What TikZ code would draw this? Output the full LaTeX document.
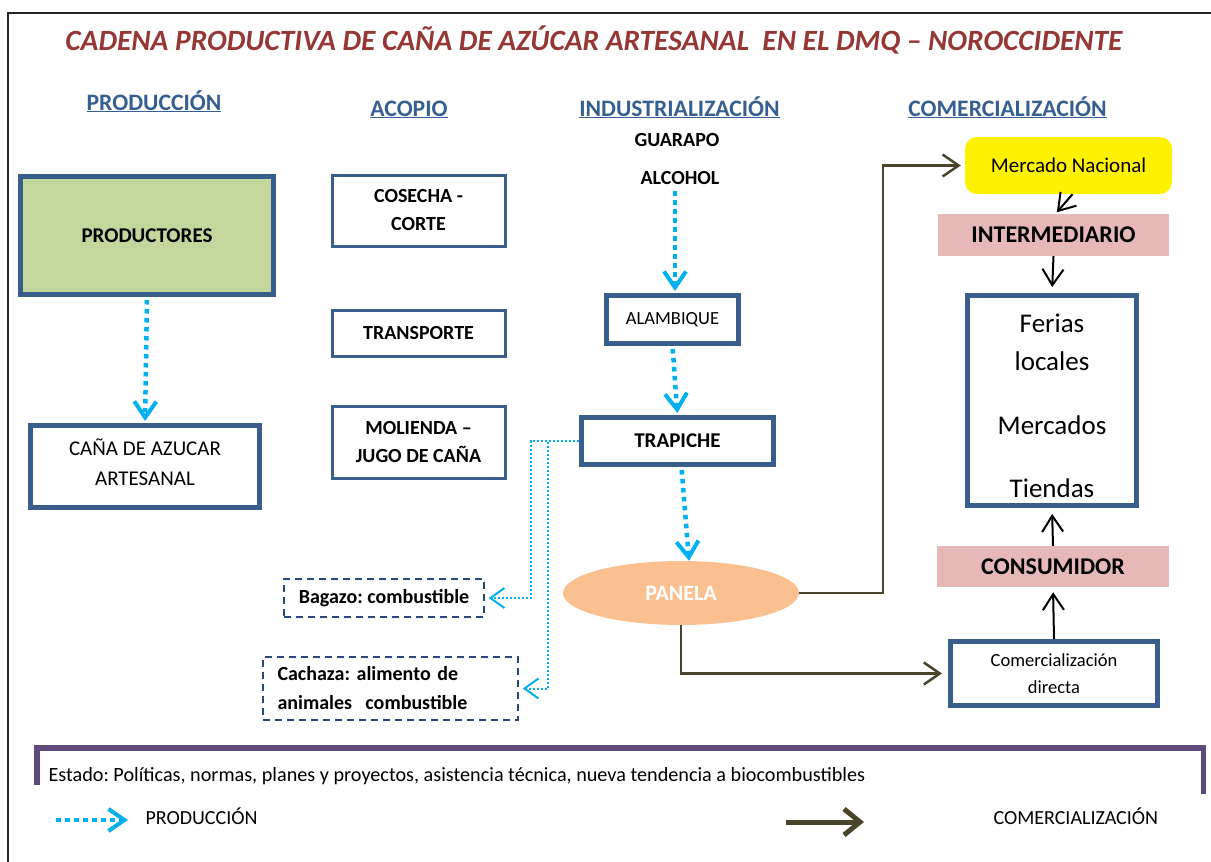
\documentclass[tikz,border=0pt]{standalone}
\usepackage{fontspec}
\setmainfont{Carlito}
\frenchspacing
\usetikzlibrary{positioning,arrows.meta,shapes.geometric}
\definecolor{titlec}{RGB}{149,55,53}
\definecolor{headc}{RGB}{54,95,145}
\definecolor{boxc}{RGB}{58,94,140}
\definecolor{dashc}{RGB}{40,70,120}
\definecolor{greenc}{RGB}{195,214,155}
\definecolor{flowc}{RGB}{0,176,240}
\definecolor{panc}{RGB}{250,192,144}
\definecolor{pinkc}{RGB}{230,185,184}
\definecolor{salec}{RGB}{74,69,42}
\definecolor{statec}{RGB}{95,73,122}
\newcommand{\fsz}[2]{\fontsize{#1}{#2}\selectfont}
\tikzset{
  stage/.style  = {draw=boxc, line width=5pt, fill=white, align=center, inner sep=0pt,
                   font=\fsz{20}{28}},
  acop/.style   = {draw=boxc, line width=3pt, align=center, inner sep=0pt,
                   font=\fsz{20}{28}\bfseries},
  byprod/.style = {draw=dashc, line width=1.5pt, dash pattern=on 7pt off 5pt, inner sep=0pt,
                   font=\fsz{20}{29}\bfseries},
  market/.style = {fill=yellow, rounded corners=12pt, inner sep=0pt, font=\fsz{21}{24}},
  actor/.style  = {fill=pinkc, inner sep=0pt, font=\fsz{24}{28}\bfseries},
  hdr/.style    = {text=headc, font=\fsz{23.6}{28}\bfseries, anchor=base},
  lbl/.style    = {font=\fsz{20}{24}\bfseries},
  note/.style   = {font=\fsz{20}{24}, anchor=west},
  flow/.style   = {draw=flowc, line width=4.5pt, dash pattern=on 4.5pt off 4.5pt, shorten <=3pt,
                   -{Straight Barb[length=16pt,width=22pt,line width=4pt]}},
  sub/.style    = {draw=flowc, line width=2pt, dash pattern=on 2pt off 2pt,
                   -{Straight Barb[length=14pt,width=20pt,line width=2pt]}},
  sale/.style   = {draw=salec, line width=2.5pt,
                   -{Straight Barb[length=16pt,width=22pt,line width=2.5pt]}},
  link/.style   = {draw=black, line width=2pt,
                   -{Straight Barb[length=16pt,width=21pt,line width=2pt]}},
}
\begin{document}
\begin{tikzpicture}[x=1pt,y=-1pt]
\useasboundingbox (0,0) rectangle (1211,862);

% marco
\draw[line width=2pt, black!85] (1211,13) -- (8,13) -- (8,862);

\node[font=\fsz{29.4}{34}\bfseries\itshape, text=titlec] (title) at (594,40)
  {CADENA PRODUCTIVA DE CAÑA DE AZÚCAR ARTESANAL\ \ EN EL DMQ – NOROCCIDENTE};

\node[hdr] (hprod) at (154,110) {\underline{PRODUCCIÓN}};
\node[hdr] (hacop) at (409,116) {\underline{ACOPIO}};
\node[hdr] (hind) at (679.5,116) {\underline{INDUSTRIALIZACIÓN}};
\node[hdr] (hcom) at (1007.5,116) {\underline{COMERCIALIZACIÓN}};

% produccion
\node[stage, fill=greenc, minimum width=253pt, minimum height=118pt, font=\fsz{21}{28}\bfseries]
  (prod) at (147,235.5) {PRODUCTORES};
\node[stage, minimum width=229pt, minimum height=82pt, font=\fsz{21}{30}]
  (cana) at (145,466.5) {CAÑA DE AZUCAR\\ARTESANAL\rule[-9pt]{0pt}{9pt}};
\draw[flow, shorten >=2pt] (prod.south) -- (cana.north);

% acopio
\node[acop, minimum width=173pt, minimum height=71pt] (cos) at (418.5,210.5) {COSECHA -\\CORTE};
\node[acop, minimum width=173pt, minimum height=46pt] (trans) at (418.5,333.5) {TRANSPORTE};
\node[acop, minimum width=173pt, minimum height=72pt] (mol) at (418.5,442.5) {MOLIENDA –\\JUGO DE CAÑA};

% industrializacion
\node[lbl] (guar) at (677,140) {GUARAPO};
\node[lbl] (alc) at (680,178) {ALCOHOL};
\node[stage, minimum width=132pt, minimum height=48pt, font=\fsz{18.5}{24}]
  (alam) at (672.5,319.5) {ALAMBIQUE};
\node[stage, minimum width=192pt, minimum height=47pt, font=\fsz{21}{24}\bfseries]
  (trap) at (677.5,441) {TRAPICHE};
\node[ellipse, fill=panc, minimum width=236pt, minimum height=64pt, inner sep=0pt,
  text=white, font=\fsz{22}{24}\bfseries] (pan) at (681,593) {PANELA};

\draw[flow, shorten >=2pt] ([xshift=-5pt]alc.south) -- ([xshift=2.5pt]alam.north);
\draw[flow, shorten >=2pt] (alam.south) -- (trap.north);
\draw[flow] ([xshift=4pt]trap.south) -- ([xshift=8pt]pan.north);

% subproductos
\node[byprod, minimum width=200pt, minimum height=38pt] (bag) at (384,598) {Bagazo: combustible};
\node[byprod, minimum width=255pt, minimum height=63pt, text width=226pt, align=left]
  (cach) at (390.5,688.5) {Cachaza: alimento de\\animales\ \ combustible};
\draw[sub] (trap.west) -- ++(-48.5,0) |- ([xshift=4pt]bag.east);
\draw[sub] (trap.west) -- ++(-31.5,0) |- ([xshift=4pt]cach.east);

% comercializacion
\node[market, minimum width=207pt, minimum height=57pt] (merc) at (1068.5,165.5) {Mercado Nacional};
\node[actor, minimum width=231pt, minimum height=42pt] (inter) at (1053.5,235) {INTERMEDIARIO};
\node[stage, minimum width=169pt, minimum height=210pt, font=\fsz{27}{38}]
  (fer) at (1052,400.5) {\rule{0pt}{29pt}Ferias\\locales\\[26pt]Mercados\\[25pt]Tiendas};
\node[actor, minimum width=232pt, minimum height=41pt] (cons) at (1053,566.5) {CONSUMIDOR};
\node[stage, minimum width=207pt, minimum height=64pt, font=\fsz{18.5}{27}]
  (dir) at (1054,673.5) {Comercialización\\directa};

\draw[sale] (pan.east) -- ++(84,0) |- ([xshift=-4pt]merc.west);
\draw[sale] (pan.south) |- ([xshift=-6pt]dir.west);
\draw[link, shorten >=2pt] ([xshift=4pt]merc.south) -- ([xshift=2pt]inter.north);
\draw[link, shorten >=6pt] (inter.south) -- (fer.north);
\draw[link, shorten >=6pt] (cons.north) -- (fer.south);
\draw[link, shorten >=5pt] (dir.north) -- (cons.south);

% estado
\draw[line width=5.5pt, statec] (37,785) -- (37,748) -- (1203.5,748) -- (1203.5,794);
\node[note, font=\fsz{20.2}{24}] (est) at (45,776)
  {Estado: Políticas, normas, planes y proyectos, asistencia técnica, nueva tendencia a biocombustibles};

% leyenda
\coordinate (lp1) at (56,820);
\coordinate (lp2) at (128,820);
\draw[flow, shorten <=0pt] (lp1) -- (lp2);
\node[note, right=14pt of lp2, yshift=4pt] (lprod) {PRODUCCIÓN};
\coordinate (lc1) at (786,822);
\coordinate (lc2) at (864,822);
\draw[sale, line width=5pt, -{Straight Barb[length=16pt,width=26pt,line width=5pt]}] (lc1) -- (lc2);
\node[note, right=126pt of lc2, yshift=6pt] (lcom) {COMERCIALIZACIÓN};

\end{tikzpicture}
\end{document}
